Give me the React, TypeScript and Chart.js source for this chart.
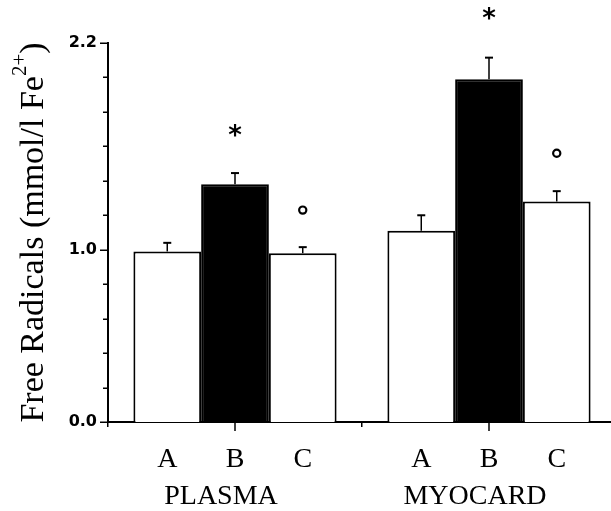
import React, { useEffect, useRef } from "react";
import { Chart, registerables } from "chart.js";

Chart.register(...registerables);

// ---- data ----
const groups = ["PLASMA", "MYOCARD"];
const conditions = ["A", "B", "C"];
const valuesA = [0.99, 1.11];
const valuesB = [1.38, 1.99];
const valuesC = [0.98, 1.28];
const errorsA = [0.05, 0.09];
const errorsB = [0.065, 0.125];
const errorsC = [0.035, 0.06];
const markerSymbols = ["", "*", "o"];
const markerA: (number | null)[] = [null, null];
const markerB: (number | null)[] = [1.69, 2.37];
const markerC: (number | null)[] = [1.23, 1.56];
const yLabelledTicks = [0, 1.0, 2.2];
const yTickValues = [0, 0.2, 0.4, 0.6, 0.8, 1.0, 1.2, 1.4, 1.6, 1.8, 2.0, 2.2];
const yMin = 0;
const yMax = 2.2;
const yTitleMain = "Free Radicals (mmol/l Fe";
const yTitleSup = "2+";
const yTitleEnd = ")";

const errors = [errorsA, errorsB, errorsC];
const markers = [markerA, markerB, markerC];

const SERIF = "'Liberation Serif', 'Times New Roman', serif";

const isLabelled = (n: number) => yLabelledTicks.some((t) => Math.abs(t - n) < 1e-6);

const overlay = {
  id: "overlay",
  afterDraw(chart: any) {
    const ctx: CanvasRenderingContext2D = chart.ctx;
    const ys = chart.scales.y;
    const xs = chart.scales.x;
    const ca = chart.chartArea;
    ctx.save();
    ctx.fillStyle = "#000";
    ctx.strokeStyle = "#000";

    // y tick marks (minor + labelled)
    ctx.lineWidth = 1.5;
    yTickValues.forEach((t) => {
      const py = Math.round(ys.getPixelForValue(t)) + 0.25;
      const len = isLabelled(t) ? 8 : 5;
      ctx.beginPath();
      ctx.moveTo(ca.left, py);
      ctx.lineTo(ca.left - len, py);
      ctx.stroke();
    });

    chart.data.datasets.forEach((ds: any, di: number) => {
      const meta = chart.getDatasetMeta(di);
      meta.data.forEach((bar: any, i: number) => {
        const v = ds.data[i];
        const e = errors[di][i];
        const top = ys.getPixelForValue(v);
        const et = ys.getPixelForValue(v + e);
        // error bar
        ctx.lineWidth = 1.5;
        ctx.beginPath();
        ctx.moveTo(bar.x, top);
        ctx.lineTo(bar.x, et);
        ctx.stroke();
        ctx.lineWidth = 2;
        ctx.beginPath();
        ctx.moveTo(bar.x - 4, et);
        ctx.lineTo(bar.x + 4, et);
        ctx.stroke();
        // significance markers
        const m = markers[di][i];
        const sym = markerSymbols[di];
        if (m !== null && sym) {
          const my = ys.getPixelForValue(m);
          if (sym === "o") {
            ctx.lineWidth = 2.2;
            ctx.beginPath();
            ctx.arc(bar.x, my, 3.6, 0, Math.PI * 2);
            ctx.stroke();
          } else {
            ctx.font = "bold 26px 'DejaVu Sans'";
            ctx.textAlign = "center";
            ctx.textBaseline = "alphabetic";
            const mt = ctx.measureText(sym);
            const off = (mt.actualBoundingBoxAscent - mt.actualBoundingBoxDescent) / 2;
            ctx.fillText(sym, bar.x, my + off);
          }
        }
        // condition label
        ctx.font = "28px " + SERIF;
        ctx.textAlign = "center";
        ctx.textBaseline = "alphabetic";
        ctx.fillText(conditions[di], bar.x, ca.bottom + 45);
      });
    });

    // group labels + centre ticks
    groups.forEach((g, i) => {
      const cx = xs.getPixelForValue(i);
      ctx.lineWidth = 1.5;
      ctx.beginPath();
      ctx.moveTo(cx, ca.bottom);
      ctx.lineTo(cx, ca.bottom + 9);
      ctx.stroke();
      ctx.font = "28px " + SERIF;
      ctx.textAlign = "center";
      ctx.fillText(g, cx - 14, ca.bottom + 82);
    });

    // y title with superscript
    const mainFont = "34px " + SERIF;
    const supFont = "21px " + SERIF;
    ctx.font = mainFont;
    const w1 = ctx.measureText(yTitleMain).width;
    const w3 = ctx.measureText(yTitleEnd).width;
    ctx.font = supFont;
    const w2 = ctx.measureText(yTitleSup).width;
    const total = w1 + w2 + w3;
    ctx.translate(43, (ca.top + ca.bottom) / 2);
    ctx.rotate(-Math.PI / 2);
    ctx.textAlign = "left";
    ctx.textBaseline = "alphabetic";
    const sx = -total / 2;
    ctx.font = mainFont;
    ctx.fillText(yTitleMain, sx, 0);
    ctx.font = supFont;
    ctx.fillText(yTitleSup, sx + w1, -17);
    ctx.font = mainFont;
    ctx.fillText(yTitleEnd, sx + w1 + w2, 0);
    ctx.restore();
  },
};

export default function App() {
  const ref = useRef<HTMLCanvasElement>(null);
  useEffect(() => {
    const chart = new Chart(ref.current as HTMLCanvasElement, {
      type: "bar",
      data: {
        labels: groups,
        datasets: [
          { label: conditions[0], data: valuesA, backgroundColor: "#fff", borderColor: "#000", borderWidth: 2 },
          { label: conditions[1], data: valuesB, backgroundColor: "#000", borderColor: "#000", borderWidth: 2 },
          { label: conditions[2], data: valuesC, backgroundColor: "#fff", borderColor: "#000", borderWidth: 2 },
        ],
      },
      options: {
        responsive: false,
        animation: false,
        layout: { padding: { top: 43, right: 4, left: 0, bottom: 0 } },
        plugins: { legend: { display: false }, tooltip: { enabled: false } },
        datasets: { bar: { categoryPercentage: 0.8, barPercentage: 1.0 } },
        scales: {
          x: {
            offset: true,
            grid: { display: true, drawOnChartArea: false, offset: true, tickLength: 5, color: "#000", lineWidth: 1.5 },
            border: { color: "#000", width: 2 },
            ticks: { display: false },
            afterFit: (s: any) => {
              s.height = 89;
            },
          },
          y: {
            min: yMin,
            max: yMax,
            afterBuildTicks: (s: any) => {
              s.ticks = yLabelledTicks.map((v) => ({ value: v }));
            },
            ticks: {
              autoSkip: false,
              color: "#000",
              padding: 11,
              font: { family: "'DejaVu Sans'", weight: "bold", size: 16 },
              callback: (v: any) => Number(v).toFixed(1),
            },
            grid: { display: false, drawTicks: false },
            border: { display: true, color: "#000", width: 2 },
            afterFit: (s: any) => {
              s.width = 108;
            },
          },
        },
      } as any,
      plugins: [overlay],
    });
    return () => chart.destroy();
  }, []);
  return (
    <div style={{ position: "fixed", left: 0, top: 0, width: 611, height: 511, overflow: "hidden", background: "#fff" }}>
      <canvas ref={ref} width={620} height={511} style={{ display: "block", width: 620, height: 511 }} />
    </div>
  );
}
